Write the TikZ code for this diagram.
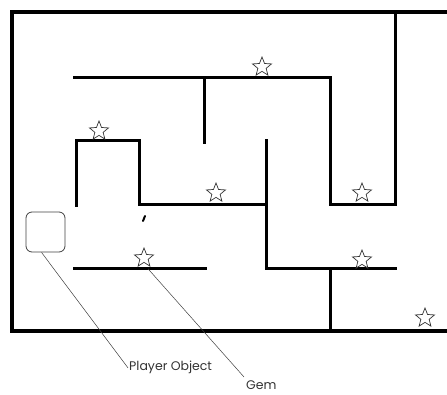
\documentclass[tikz,border=0pt]{standalone}
\usepackage{fontspec}
\setmainfont{Poppins}
\usetikzlibrary{shapes.geometric}
\begin{document}
\begin{tikzpicture}[x=1pt,y=-1pt,
  wall/.style={line width=3pt,line cap=rect,line join=miter},
  outer/.style={line width=3.4pt,line join=miter},
  gemstar/.style={star,star points=5,star point ratio=2.3,minimum size=20pt,inner sep=0pt,draw=black!80,line width=0.7pt,fill=white},
  leader/.style={draw=black!75,line width=0.5pt},
  lbl/.style={font=\fontsize{12.5}{14}\selectfont,text=black!80,inner sep=1pt}]
\useasboundingbox (0,0) rectangle (447,394);
% outer border
\draw[outer] (447,12) -- (12,12) -- (12,331) -- (447,331);
% maze walls
\draw[wall] (395,12) -- (395,204) -- (330,204) -- (330,77) -- (74,77);
\draw[wall] (204,77) -- (204,142);
\draw[wall] (266,140) -- (266,268) -- (395,268);
\draw[wall] (330,268) -- (330,331);
\draw[wall] (76,205) -- (76,140) -- (139,140) -- (139,204) -- (266,204);
\draw[wall] (74,268) -- (205,268);
\draw[line width=2pt,line cap=round] (143,221) -- (145,216);
% stars
\node[gemstar] (s1) at (262,67) {};
\node[gemstar] (s2) at (99,131) {};
\node[gemstar] (s3) at (216,193) {};
\node[gemstar] (s4) at (362,193) {};
\node[gemstar] (gem) at (144,258) {};
\node[gemstar] (s6) at (362,260) {};
\node[gemstar] (s7) at (425,318) {};
% player object
\node[draw=black!75,line width=0.8pt,rounded corners=6pt,minimum width=39pt,minimum height=40pt,inner sep=0pt] (player) at (45.5,232) {};
% labels
\node[lbl,anchor=base west] (plbl) at (128,370) {Player Object};
\node[lbl,anchor=base west] (glbl) at (245,389) {Gem};
\draw[leader] ([xshift=-4pt]player.south) -- ([yshift=-1pt]plbl.west);
\draw[leader] ([shift={(4pt,-6pt)}]gem.south) -- ([shift={(-1pt,2pt)}]glbl.north west);
\end{tikzpicture}
\end{document}
